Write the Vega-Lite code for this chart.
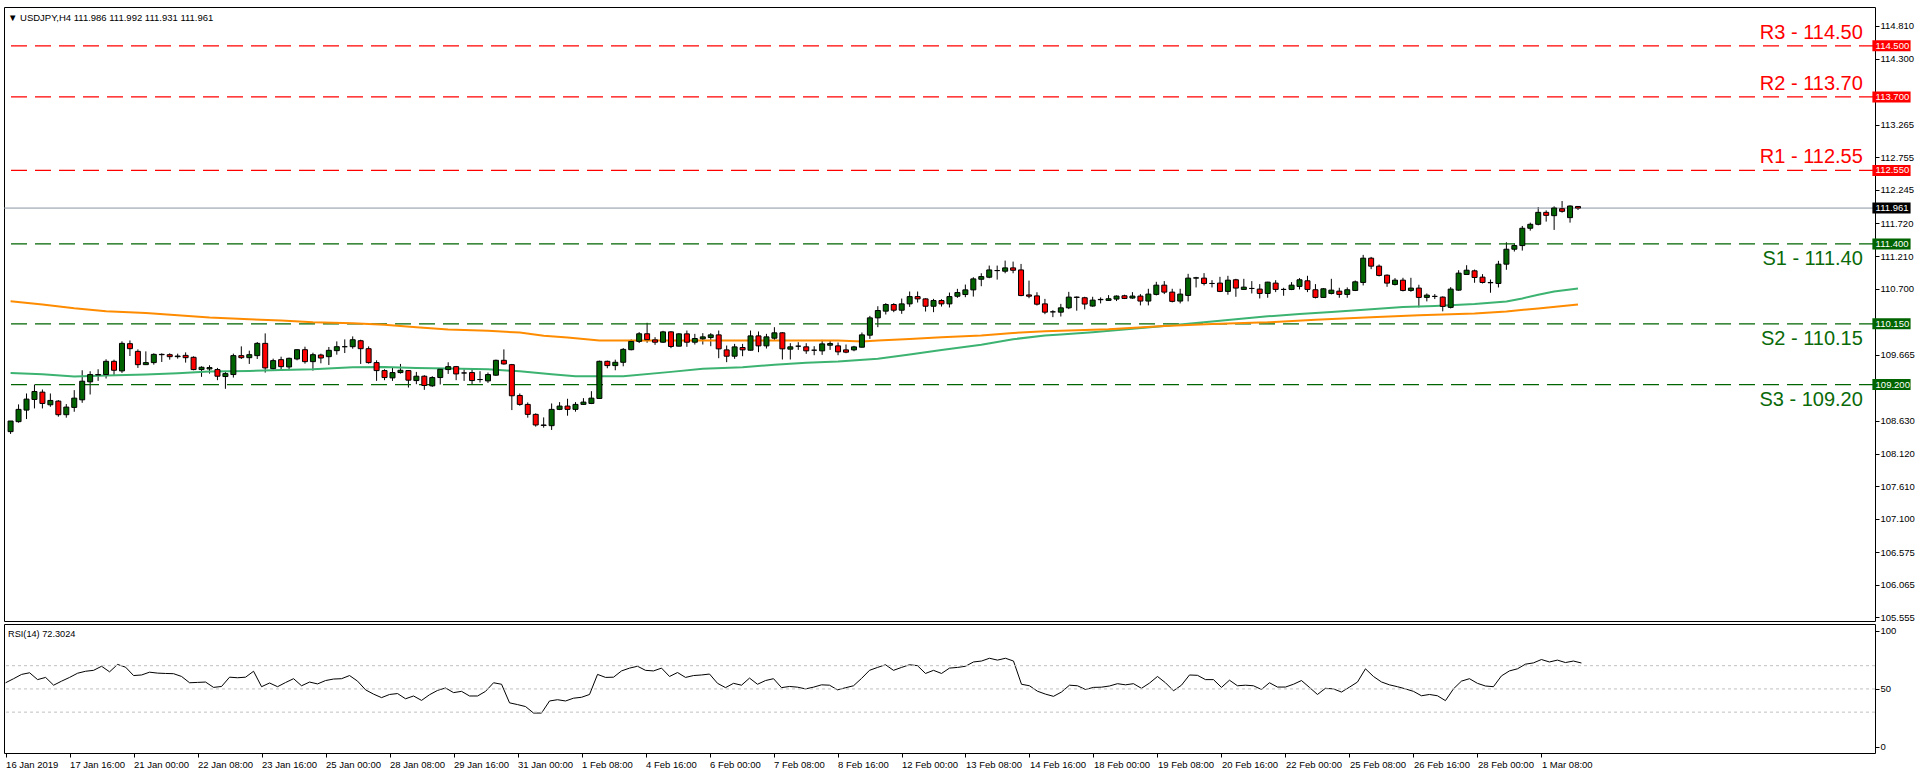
{
  "$schema": "https://vega.github.io/schema/vega-lite/v6.json",
  "background": "white",
  "padding": {"left": 2, "top": 6, "right": 0, "bottom": 0},
  "autosize": {"type": "pad"},
  "spacing": 0,
  "config": {
    "view": {"stroke": "#000000", "strokeWidth": 1},
    "font": "Liberation Sans",
    "axis": {"labelFont": "Liberation Sans", "labelFontSize": 9.5, "labelColor": "#000000", "tickColor": "#000000", "domain": false, "grid": false, "tickSize": 4, "labelOverlap": false, "labelBound": false, "labelFlush": false}
  },
  "resolve": {"scale": {"x": "independent", "y": "independent"}},
  "datasets": {
    "candles": [
      {"i":0,"o":108.463,"h":108.629,"l":108.427,"c":108.629},
      {"i":1,"o":108.619,"h":108.889,"l":108.603,"c":108.811},
      {"i":2,"o":108.800,"h":109.060,"l":108.660,"c":108.972},
      {"i":3,"o":108.966,"h":109.200,"l":108.826,"c":109.091},
      {"i":4,"o":109.081,"h":109.122,"l":108.826,"c":108.904},
      {"i":5,"o":108.883,"h":109.060,"l":108.852,"c":108.951},
      {"i":6,"o":108.941,"h":108.956,"l":108.697,"c":108.728},
      {"i":7,"o":108.728,"h":108.894,"l":108.681,"c":108.847},
      {"i":8,"o":108.842,"h":109.112,"l":108.774,"c":108.987},
      {"i":9,"o":108.961,"h":109.423,"l":108.914,"c":109.252},
      {"i":10,"o":109.242,"h":109.408,"l":109.044,"c":109.356},
      {"i":11,"o":109.356,"h":109.439,"l":109.257,"c":109.350},
      {"i":12,"o":109.356,"h":109.595,"l":109.294,"c":109.563},
      {"i":13,"o":109.563,"h":109.589,"l":109.335,"c":109.423},
      {"i":14,"o":109.413,"h":109.875,"l":109.382,"c":109.844},
      {"i":15,"o":109.839,"h":109.890,"l":109.646,"c":109.761},
      {"i":16,"o":109.719,"h":109.750,"l":109.460,"c":109.511},
      {"i":17,"o":109.511,"h":109.719,"l":109.511,"c":109.543},
      {"i":18,"o":109.543,"h":109.688,"l":109.511,"c":109.672},
      {"i":19,"o":109.672,"h":109.688,"l":109.553,"c":109.667},
      {"i":20,"o":109.667,"h":109.688,"l":109.589,"c":109.636},
      {"i":21,"o":109.636,"h":109.683,"l":109.605,"c":109.646},
      {"i":22,"o":109.656,"h":109.703,"l":109.543,"c":109.620},
      {"i":23,"o":109.626,"h":109.641,"l":109.423,"c":109.434},
      {"i":24,"o":109.434,"h":109.485,"l":109.320,"c":109.470},
      {"i":25,"o":109.444,"h":109.501,"l":109.371,"c":109.465},
      {"i":26,"o":109.434,"h":109.460,"l":109.268,"c":109.330},
      {"i":27,"o":109.325,"h":109.413,"l":109.133,"c":109.371},
      {"i":28,"o":109.356,"h":109.683,"l":109.309,"c":109.652},
      {"i":29,"o":109.652,"h":109.797,"l":109.600,"c":109.620},
      {"i":30,"o":109.620,"h":109.730,"l":109.522,"c":109.667},
      {"i":31,"o":109.652,"h":109.865,"l":109.600,"c":109.844},
      {"i":32,"o":109.844,"h":110.000,"l":109.387,"c":109.460},
      {"i":33,"o":109.449,"h":109.605,"l":109.434,"c":109.574},
      {"i":34,"o":109.589,"h":109.636,"l":109.434,"c":109.480},
      {"i":35,"o":109.475,"h":109.621,"l":109.423,"c":109.610},
      {"i":36,"o":109.600,"h":109.750,"l":109.579,"c":109.745},
      {"i":37,"o":109.745,"h":109.792,"l":109.527,"c":109.558},
      {"i":38,"o":109.558,"h":109.698,"l":109.418,"c":109.667},
      {"i":39,"o":109.662,"h":109.683,"l":109.532,"c":109.615},
      {"i":40,"o":109.636,"h":109.787,"l":109.506,"c":109.735},
      {"i":41,"o":109.730,"h":109.875,"l":109.667,"c":109.792},
      {"i":42,"o":109.792,"h":109.906,"l":109.693,"c":109.792},
      {"i":43,"o":109.792,"h":109.953,"l":109.761,"c":109.901},
      {"i":44,"o":109.885,"h":109.901,"l":109.522,"c":109.761},
      {"i":45,"o":109.761,"h":109.797,"l":109.527,"c":109.543},
      {"i":46,"o":109.543,"h":109.579,"l":109.257,"c":109.418},
      {"i":47,"o":109.418,"h":109.439,"l":109.268,"c":109.309},
      {"i":48,"o":109.304,"h":109.465,"l":109.257,"c":109.387},
      {"i":49,"o":109.387,"h":109.522,"l":109.371,"c":109.423},
      {"i":50,"o":109.418,"h":109.423,"l":109.153,"c":109.268},
      {"i":51,"o":109.262,"h":109.397,"l":109.205,"c":109.330},
      {"i":52,"o":109.330,"h":109.346,"l":109.117,"c":109.185},
      {"i":53,"o":109.179,"h":109.330,"l":109.164,"c":109.309},
      {"i":54,"o":109.309,"h":109.449,"l":109.200,"c":109.439},
      {"i":55,"o":109.434,"h":109.548,"l":109.366,"c":109.480},
      {"i":56,"o":109.480,"h":109.491,"l":109.268,"c":109.366},
      {"i":57,"o":109.381,"h":109.439,"l":109.257,"c":109.381},
      {"i":58,"o":109.387,"h":109.449,"l":109.200,"c":109.262},
      {"i":59,"o":109.278,"h":109.408,"l":109.231,"c":109.278},
      {"i":60,"o":109.257,"h":109.387,"l":109.226,"c":109.356},
      {"i":61,"o":109.346,"h":109.589,"l":109.335,"c":109.579},
      {"i":62,"o":109.579,"h":109.750,"l":109.511,"c":109.522},
      {"i":63,"o":109.511,"h":109.522,"l":108.800,"c":109.024},
      {"i":64,"o":109.029,"h":109.060,"l":108.868,"c":108.889},
      {"i":65,"o":108.889,"h":108.920,"l":108.681,"c":108.733},
      {"i":66,"o":108.733,"h":108.749,"l":108.541,"c":108.567},
      {"i":67,"o":108.567,"h":108.686,"l":108.525,"c":108.560},
      {"i":68,"o":108.556,"h":108.904,"l":108.489,"c":108.811},
      {"i":69,"o":108.811,"h":108.925,"l":108.800,"c":108.863},
      {"i":70,"o":108.863,"h":108.977,"l":108.712,"c":108.811},
      {"i":71,"o":108.811,"h":108.925,"l":108.775,"c":108.889},
      {"i":72,"o":108.889,"h":108.987,"l":108.884,"c":108.925},
      {"i":73,"o":108.904,"h":109.096,"l":108.894,"c":108.987},
      {"i":74,"o":108.982,"h":109.574,"l":108.977,"c":109.563},
      {"i":75,"o":109.563,"h":109.574,"l":109.454,"c":109.496},
      {"i":76,"o":109.496,"h":109.589,"l":109.423,"c":109.548},
      {"i":77,"o":109.548,"h":109.771,"l":109.485,"c":109.750},
      {"i":78,"o":109.745,"h":109.906,"l":109.735,"c":109.875},
      {"i":79,"o":109.875,"h":110.020,"l":109.849,"c":109.994},
      {"i":80,"o":109.994,"h":110.166,"l":109.854,"c":109.901},
      {"i":81,"o":109.899,"h":109.941,"l":109.821,"c":109.862},
      {"i":82,"o":109.862,"h":110.040,"l":109.852,"c":110.024},
      {"i":83,"o":110.024,"h":110.035,"l":109.769,"c":109.795},
      {"i":84,"o":109.800,"h":110.004,"l":109.795,"c":109.993},
      {"i":85,"o":109.993,"h":110.045,"l":109.790,"c":109.862},
      {"i":86,"o":109.862,"h":109.993,"l":109.826,"c":109.920},
      {"i":87,"o":109.915,"h":110.004,"l":109.826,"c":109.946},
      {"i":88,"o":109.935,"h":110.004,"l":109.800,"c":109.977},
      {"i":89,"o":109.977,"h":110.045,"l":109.612,"c":109.758},
      {"i":90,"o":109.742,"h":109.810,"l":109.550,"c":109.643},
      {"i":91,"o":109.643,"h":109.836,"l":109.602,"c":109.789},
      {"i":92,"o":109.779,"h":109.836,"l":109.643,"c":109.742},
      {"i":93,"o":109.737,"h":110.045,"l":109.732,"c":109.961},
      {"i":94,"o":109.961,"h":110.030,"l":109.706,"c":109.805},
      {"i":95,"o":109.805,"h":109.993,"l":109.763,"c":109.946},
      {"i":96,"o":109.925,"h":110.097,"l":109.888,"c":110.009},
      {"i":97,"o":110.009,"h":110.019,"l":109.592,"c":109.758},
      {"i":98,"o":109.753,"h":109.847,"l":109.592,"c":109.790},
      {"i":99,"o":109.800,"h":109.862,"l":109.742,"c":109.800},
      {"i":100,"o":109.790,"h":109.847,"l":109.680,"c":109.727},
      {"i":101,"o":109.737,"h":109.800,"l":109.659,"c":109.737},
      {"i":102,"o":109.727,"h":109.899,"l":109.664,"c":109.836},
      {"i":103,"o":109.815,"h":109.888,"l":109.742,"c":109.841},
      {"i":104,"o":109.805,"h":109.857,"l":109.659,"c":109.711},
      {"i":105,"o":109.742,"h":109.826,"l":109.690,"c":109.706},
      {"i":106,"o":109.742,"h":109.805,"l":109.721,"c":109.789},
      {"i":107,"o":109.784,"h":110.014,"l":109.779,"c":109.977},
      {"i":108,"o":109.972,"h":110.274,"l":109.915,"c":110.243},
      {"i":109,"o":110.243,"h":110.425,"l":110.097,"c":110.358},
      {"i":110,"o":110.348,"h":110.473,"l":110.296,"c":110.452},
      {"i":111,"o":110.452,"h":110.473,"l":110.332,"c":110.363},
      {"i":112,"o":110.363,"h":110.545,"l":110.306,"c":110.462},
      {"i":113,"o":110.462,"h":110.655,"l":110.415,"c":110.576},
      {"i":114,"o":110.576,"h":110.655,"l":110.483,"c":110.540},
      {"i":115,"o":110.540,"h":110.550,"l":110.342,"c":110.425},
      {"i":116,"o":110.425,"h":110.540,"l":110.332,"c":110.514},
      {"i":117,"o":110.514,"h":110.535,"l":110.420,"c":110.462},
      {"i":118,"o":110.462,"h":110.639,"l":110.405,"c":110.576},
      {"i":119,"o":110.581,"h":110.697,"l":110.556,"c":110.639},
      {"i":120,"o":110.608,"h":110.764,"l":110.566,"c":110.681},
      {"i":121,"o":110.681,"h":110.879,"l":110.576,"c":110.853},
      {"i":122,"o":110.847,"h":110.941,"l":110.738,"c":110.889},
      {"i":123,"o":110.879,"h":111.061,"l":110.863,"c":110.993},
      {"i":124,"o":110.983,"h":111.061,"l":110.842,"c":110.983},
      {"i":125,"o":110.973,"h":111.139,"l":110.941,"c":111.025},
      {"i":126,"o":111.025,"h":111.123,"l":110.941,"c":110.988},
      {"i":127,"o":110.993,"h":111.087,"l":110.582,"c":110.592},
      {"i":128,"o":110.602,"h":110.826,"l":110.550,"c":110.582},
      {"i":129,"o":110.587,"h":110.644,"l":110.436,"c":110.457},
      {"i":130,"o":110.462,"h":110.540,"l":110.301,"c":110.332},
      {"i":131,"o":110.337,"h":110.363,"l":110.254,"c":110.337},
      {"i":132,"o":110.332,"h":110.462,"l":110.264,"c":110.400},
      {"i":133,"o":110.400,"h":110.650,"l":110.380,"c":110.568},
      {"i":134,"o":110.568,"h":110.578,"l":110.355,"c":110.563},
      {"i":135,"o":110.558,"h":110.573,"l":110.376,"c":110.459},
      {"i":136,"o":110.428,"h":110.573,"l":110.417,"c":110.521},
      {"i":137,"o":110.527,"h":110.563,"l":110.469,"c":110.532},
      {"i":138,"o":110.516,"h":110.599,"l":110.511,"c":110.542},
      {"i":139,"o":110.537,"h":110.594,"l":110.506,"c":110.584},
      {"i":140,"o":110.589,"h":110.605,"l":110.537,"c":110.547},
      {"i":141,"o":110.553,"h":110.646,"l":110.542,"c":110.584},
      {"i":142,"o":110.584,"h":110.615,"l":110.438,"c":110.506},
      {"i":143,"o":110.506,"h":110.698,"l":110.438,"c":110.615},
      {"i":144,"o":110.610,"h":110.807,"l":110.594,"c":110.755},
      {"i":145,"o":110.755,"h":110.818,"l":110.615,"c":110.646},
      {"i":146,"o":110.646,"h":110.698,"l":110.485,"c":110.501},
      {"i":147,"o":110.506,"h":110.698,"l":110.469,"c":110.615},
      {"i":148,"o":110.594,"h":110.932,"l":110.501,"c":110.865},
      {"i":149,"o":110.865,"h":110.885,"l":110.719,"c":110.870},
      {"i":150,"o":110.865,"h":110.943,"l":110.750,"c":110.781},
      {"i":151,"o":110.781,"h":110.833,"l":110.719,"c":110.781},
      {"i":152,"o":110.787,"h":110.885,"l":110.646,"c":110.657},
      {"i":153,"o":110.657,"h":110.901,"l":110.605,"c":110.833},
      {"i":154,"o":110.839,"h":110.854,"l":110.573,"c":110.709},
      {"i":155,"o":110.688,"h":110.854,"l":110.688,"c":110.724},
      {"i":156,"o":110.703,"h":110.818,"l":110.625,"c":110.703},
      {"i":157,"o":110.693,"h":110.771,"l":110.547,"c":110.625},
      {"i":158,"o":110.625,"h":110.807,"l":110.558,"c":110.802},
      {"i":159,"o":110.787,"h":110.833,"l":110.646,"c":110.688},
      {"i":160,"o":110.688,"h":110.714,"l":110.589,"c":110.688},
      {"i":161,"o":110.688,"h":110.802,"l":110.677,"c":110.755},
      {"i":162,"o":110.735,"h":110.865,"l":110.688,"c":110.839},
      {"i":163,"o":110.823,"h":110.901,"l":110.646,"c":110.688},
      {"i":164,"o":110.683,"h":110.771,"l":110.547,"c":110.563},
      {"i":165,"o":110.563,"h":110.709,"l":110.558,"c":110.698},
      {"i":166,"o":110.625,"h":110.854,"l":110.610,"c":110.677},
      {"i":167,"o":110.661,"h":110.714,"l":110.558,"c":110.610},
      {"i":168,"o":110.610,"h":110.719,"l":110.558,"c":110.683},
      {"i":169,"o":110.672,"h":110.828,"l":110.662,"c":110.807},
      {"i":170,"o":110.797,"h":111.229,"l":110.750,"c":111.177},
      {"i":171,"o":111.177,"h":111.197,"l":111.005,"c":111.052},
      {"i":172,"o":111.052,"h":111.078,"l":110.891,"c":110.907},
      {"i":173,"o":110.911,"h":110.922,"l":110.729,"c":110.787},
      {"i":174,"o":110.766,"h":110.865,"l":110.750,"c":110.833},
      {"i":175,"o":110.833,"h":110.870,"l":110.657,"c":110.672},
      {"i":176,"o":110.672,"h":110.870,"l":110.651,"c":110.709},
      {"i":177,"o":110.709,"h":110.761,"l":110.407,"c":110.563},
      {"i":178,"o":110.563,"h":110.625,"l":110.501,"c":110.599},
      {"i":179,"o":110.579,"h":110.615,"l":110.537,"c":110.579},
      {"i":180,"o":110.568,"h":110.579,"l":110.345,"c":110.423},
      {"i":181,"o":110.407,"h":110.724,"l":110.391,"c":110.693},
      {"i":182,"o":110.677,"h":110.989,"l":110.667,"c":110.943},
      {"i":183,"o":110.922,"h":111.067,"l":110.922,"c":110.989},
      {"i":184,"o":110.979,"h":110.999,"l":110.792,"c":110.875},
      {"i":185,"o":110.880,"h":110.927,"l":110.781,"c":110.797},
      {"i":186,"o":110.797,"h":110.843,"l":110.636,"c":110.792},
      {"i":187,"o":110.781,"h":111.135,"l":110.719,"c":111.083},
      {"i":188,"o":111.083,"h":111.426,"l":110.995,"c":111.317},
      {"i":189,"o":111.317,"h":111.405,"l":111.281,"c":111.374},
      {"i":190,"o":111.374,"h":111.681,"l":111.296,"c":111.645},
      {"i":191,"o":111.645,"h":111.733,"l":111.608,"c":111.707},
      {"i":192,"o":111.707,"h":111.977,"l":111.691,"c":111.894},
      {"i":193,"o":111.894,"h":111.925,"l":111.749,"c":111.847},
      {"i":194,"o":111.842,"h":111.988,"l":111.619,"c":111.962},
      {"i":195,"o":111.951,"h":112.071,"l":111.889,"c":111.910},
      {"i":196,"o":111.811,"h":112.003,"l":111.733,"c":111.993},
      {"i":197,"o":111.986,"h":111.992,"l":111.931,"c":111.961}
    ],
    "ma": [
      {"i":0,"v":109.381,"s":"fast"},{"i":4,"v":109.360,"s":"fast"},{"i":8,"v":109.324,"s":"fast"},{"i":12,"v":109.340,"s":"fast"},{"i":17,"v":109.355,"s":"fast"},{"i":21,"v":109.376,"s":"fast"},{"i":25,"v":109.402,"s":"fast"},{"i":30,"v":109.413,"s":"fast"},{"i":34,"v":109.428,"s":"fast"},{"i":38,"v":109.438,"s":"fast"},{"i":43,"v":109.469,"s":"fast"},{"i":47,"v":109.475,"s":"fast"},{"i":51,"v":109.459,"s":"fast"},{"i":55,"v":109.449,"s":"fast"},{"i":60,"v":109.438,"s":"fast"},{"i":64,"v":109.407,"s":"fast"},{"i":68,"v":109.360,"s":"fast"},{"i":71,"v":109.331,"s":"fast"},{"i":77,"v":109.331,"s":"fast"},{"i":83,"v":109.398,"s":"fast"},{"i":87,"v":109.445,"s":"fast"},{"i":92,"v":109.471,"s":"fast"},{"i":96,"v":109.508,"s":"fast"},{"i":100,"v":109.539,"s":"fast"},{"i":104,"v":109.560,"s":"fast"},{"i":109,"v":109.602,"s":"fast"},{"i":113,"v":109.669,"s":"fast"},{"i":117,"v":109.742,"s":"fast"},{"i":122,"v":109.821,"s":"fast"},{"i":126,"v":109.909,"s":"fast"},{"i":130,"v":109.966,"s":"fast"},{"i":132,"v":109.981,"s":"fast"},{"i":136,"v":110.017,"s":"fast"},{"i":141,"v":110.074,"s":"fast"},{"i":145,"v":110.116,"s":"fast"},{"i":149,"v":110.163,"s":"fast"},{"i":154,"v":110.220,"s":"fast"},{"i":158,"v":110.267,"s":"fast"},{"i":162,"v":110.303,"s":"fast"},{"i":166,"v":110.335,"s":"fast"},{"i":171,"v":110.376,"s":"fast"},{"i":175,"v":110.412,"s":"fast"},{"i":179,"v":110.428,"s":"fast"},{"i":184,"v":110.459,"s":"fast"},{"i":188,"v":110.500,"s":"fast"},{"i":190,"v":110.547,"s":"fast"},{"i":192,"v":110.604,"s":"fast"},{"i":194,"v":110.657,"s":"fast"},{"i":197,"v":110.703,"s":"fast"},
      {"i":0,"v":110.503,"s":"slow"},{"i":4,"v":110.451,"s":"slow"},{"i":8,"v":110.393,"s":"slow"},{"i":12,"v":110.347,"s":"slow"},{"i":17,"v":110.321,"s":"slow"},{"i":21,"v":110.284,"s":"slow"},{"i":25,"v":110.248,"s":"slow"},{"i":30,"v":110.222,"s":"slow"},{"i":34,"v":110.201,"s":"slow"},{"i":38,"v":110.175,"s":"slow"},{"i":43,"v":110.160,"s":"slow"},{"i":47,"v":110.134,"s":"slow"},{"i":51,"v":110.098,"s":"slow"},{"i":55,"v":110.061,"s":"slow"},{"i":60,"v":110.040,"s":"slow"},{"i":64,"v":110.014,"s":"slow"},{"i":67,"v":109.963,"s":"slow"},{"i":70,"v":109.935,"s":"slow"},{"i":74,"v":109.888,"s":"slow"},{"i":87,"v":109.888,"s":"slow"},{"i":104,"v":109.888,"s":"slow"},{"i":107,"v":109.873,"s":"slow"},{"i":109,"v":109.888,"s":"slow"},{"i":113,"v":109.914,"s":"slow"},{"i":117,"v":109.940,"s":"slow"},{"i":122,"v":109.966,"s":"slow"},{"i":126,"v":110.008,"s":"slow"},{"i":130,"v":110.034,"s":"slow"},{"i":132,"v":110.043,"s":"slow"},{"i":138,"v":110.064,"s":"slow"},{"i":145,"v":110.116,"s":"slow"},{"i":151,"v":110.147,"s":"slow"},{"i":158,"v":110.173,"s":"slow"},{"i":164,"v":110.215,"s":"slow"},{"i":171,"v":110.251,"s":"slow"},{"i":177,"v":110.282,"s":"slow"},{"i":184,"v":110.313,"s":"slow"},{"i":188,"v":110.344,"s":"slow"},{"i":192,"v":110.391,"s":"slow"},{"i":197,"v":110.453,"s":"slow"}
    ],
    "res": [
      {"p":114.50,"name":"R3 - 114.50"},
      {"p":113.70,"name":"R2 - 113.70"},
      {"p":112.55,"name":"R1 - 112.55"}
    ],
    "sup": [
      {"p":111.40,"name":"S1 - 111.40"},
      {"p":110.15,"name":"S2 - 110.15"},
      {"p":109.20,"name":"S3 - 109.20"}
    ],
    "bid": [{"p":111.961}],
    "boxes": [
      {"p":114.500,"t":"114.500","k":"R"},
      {"p":113.700,"t":"113.700","k":"R"},
      {"p":112.550,"t":"112.550","k":"R"},
      {"p":111.961,"t":"111.961","k":"P"},
      {"p":111.400,"t":"111.400","k":"S"},
      {"p":110.150,"t":"110.150","k":"S"},
      {"p":109.200,"t":"109.200","k":"S"}
    ],
    "rsiLevels": [{"v":70},{"v":50},{"v":30}],
    "rsi": [
      {"i":0,"v":55.3},{"i":1,"v":58.8},{"i":2,"v":62.5},{"i":3,"v":63.9},{"i":4,"v":58.0},{"i":5,"v":59.9},{"i":6,"v":53.2},{"i":7,"v":56.7},{"i":8,"v":59.9},{"i":9,"v":63.5},
      {"i":10,"v":65.2},{"i":11,"v":66.0},{"i":12,"v":69.5},{"i":13,"v":64.7},{"i":14,"v":71.1},{"i":15,"v":68.7},{"i":16,"v":61.5},{"i":17,"v":62.0},{"i":18,"v":64.4},{"i":19,"v":63.6},
      {"i":20,"v":63.3},{"i":21,"v":63.1},{"i":22,"v":60.7},{"i":23,"v":55.3},{"i":24,"v":55.6},{"i":25,"v":55.9},{"i":26,"v":51.3},{"i":27,"v":52.1},{"i":28,"v":60.1},{"i":29,"v":59.6},
      {"i":30,"v":60.1},{"i":31,"v":65.2},{"i":32,"v":51.9},{"i":33,"v":55.1},{"i":34,"v":51.9},{"i":35,"v":55.5},{"i":36,"v":58.8},{"i":37,"v":52.7},{"i":38,"v":55.9},{"i":39,"v":54.3},
      {"i":40,"v":57.2},{"i":41,"v":58.5},{"i":42,"v":58.8},{"i":43,"v":61.5},{"i":44,"v":56.7},{"i":45,"v":49.2},{"i":46,"v":45.5},{"i":47,"v":42.5},{"i":48,"v":45.2},{"i":49,"v":46.0},
      {"i":50,"v":41.5},{"i":51,"v":43.9},{"i":52,"v":40.1},{"i":53,"v":45.0},{"i":54,"v":48.7},{"i":55,"v":50.8},{"i":56,"v":46.8},{"i":57,"v":47.9},{"i":58,"v":43.9},{"i":59,"v":43.9},
      {"i":60,"v":47.9},{"i":61,"v":55.3},{"i":62,"v":54.0},{"i":63,"v":38.0},{"i":64,"v":36.5},{"i":65,"v":34.8},{"i":66,"v":29.2},{"i":67,"v":29.2},{"i":68,"v":39.6},{"i":69,"v":40.7},
      {"i":70,"v":39.6},{"i":71,"v":42.0},{"i":72,"v":42.8},{"i":73,"v":45.2},{"i":74,"v":62.5},{"i":75,"v":59.9},{"i":76,"v":60.1},{"i":77,"v":65.5},{"i":78,"v":67.9},{"i":79,"v":69.5},
      {"i":80,"v":66.0},{"i":81,"v":65.5},{"i":82,"v":67.9},{"i":83,"v":60.7},{"i":84,"v":64.1},{"i":85,"v":59.9},{"i":86,"v":61.5},{"i":87,"v":62.0},{"i":88,"v":62.8},{"i":89,"v":54.8},
      {"i":90,"v":51.1},{"i":91,"v":54.8},{"i":92,"v":53.2},{"i":93,"v":59.3},{"i":94,"v":54.0},{"i":95,"v":57.2},{"i":96,"v":58.8},{"i":97,"v":51.1},{"i":98,"v":52.1},{"i":99,"v":51.5},
      {"i":100,"v":50.0},{"i":101,"v":51.5},{"i":102,"v":53.5},{"i":103,"v":53.2},{"i":104,"v":49.2},{"i":105,"v":51.0},{"i":106,"v":52.7},{"i":107,"v":59.0},{"i":108,"v":66.0},{"i":109,"v":68.5},
      {"i":110,"v":70.8},{"i":111,"v":66.0},{"i":112,"v":68.5},{"i":113,"v":70.8},{"i":114,"v":70.0},{"i":115,"v":63.3},{"i":116,"v":66.0},{"i":117,"v":63.3},{"i":118,"v":67.9},{"i":119,"v":68.5},
      {"i":120,"v":69.5},{"i":121,"v":73.2},{"i":122,"v":74.0},{"i":123,"v":76.4},{"i":124,"v":74.8},{"i":125,"v":76.4},{"i":126,"v":74.0},{"i":127,"v":54.0},{"i":128,"v":52.7},{"i":129,"v":48.0},
      {"i":130,"v":45.5},{"i":131,"v":43.6},{"i":132,"v":47.3},{"i":133,"v":53.2},{"i":134,"v":52.7},{"i":135,"v":49.5},{"i":136,"v":51.3},{"i":137,"v":51.5},{"i":138,"v":52.5},{"i":139,"v":54.5},
      {"i":140,"v":53.5},{"i":141,"v":54.5},{"i":142,"v":50.5},{"i":143,"v":55.0},{"i":144,"v":60.7},{"i":145,"v":55.3},{"i":146,"v":48.4},{"i":147,"v":53.2},{"i":148,"v":62.0},{"i":149,"v":61.7},
      {"i":150,"v":58.0},{"i":151,"v":58.0},{"i":152,"v":51.3},{"i":153,"v":57.5},{"i":154,"v":52.7},{"i":155,"v":53.2},{"i":156,"v":52.7},{"i":157,"v":49.5},{"i":158,"v":55.3},{"i":159,"v":51.6},
      {"i":160,"v":51.6},{"i":161,"v":54.0},{"i":162,"v":57.2},{"i":163,"v":51.3},{"i":164,"v":45.2},{"i":165,"v":50.5},{"i":166,"v":50.0},{"i":167,"v":47.3},{"i":168,"v":51.5},{"i":169,"v":55.9},
      {"i":170,"v":67.3},{"i":171,"v":60.7},{"i":172,"v":56.0},{"i":173,"v":53.5},{"i":174,"v":51.9},{"i":175,"v":50.0},{"i":176,"v":47.9},{"i":177,"v":44.1},{"i":178,"v":45.2},{"i":179,"v":44.1},
      {"i":180,"v":39.9},{"i":181,"v":50.0},{"i":182,"v":56.7},{"i":183,"v":58.8},{"i":184,"v":54.8},{"i":185,"v":52.5},{"i":186,"v":51.9},{"i":187,"v":61.2},{"i":188,"v":65.5},{"i":189,"v":67.3},
      {"i":190,"v":71.3},{"i":191,"v":72.4},{"i":192,"v":75.3},{"i":193,"v":73.2},{"i":194,"v":74.8},{"i":195,"v":72.7},{"i":196,"v":74.0},{"i":197,"v":72.3}
    ]
  },
  "vconcat": [
    {
      "width": 1871,
      "height": 614,
      "title": {"text": "▼ USDJPY,H4  111.986 111.992 111.931 111.961", "anchor": "start", "frame": "group", "offset": -15, "dx": 4, "fontSize": 9.5, "fontWeight": "normal", "font": "Liberation Sans", "color": "#000000"},
      "layer": [
        {
          "data": {"name": "candles"},
          "mark": {"type": "rule", "color": "#000000", "strokeWidth": 1},
          "encoding": {
            "x": {"field": "i", "type": "quantitative", "scale": {"domain": [-0.2, 233.7], "nice": false, "zero": false}, "axis": null},
            "y": {"field": "l", "type": "quantitative", "title": null, "scale": {"domain": [105.5, 115.107], "nice": false, "zero": false},
                  "axis": {"orient": "right", "title": null, "values": [114.81,114.3,113.265,112.755,112.245,111.72,111.21,110.7,109.665,108.63,108.12,107.61,107.1,106.575,106.065,105.555], "format": ".3f", "labelPadding": 1, "labelOverlap": false, "labelBound": false, "labelFlush": false}},
            "y2": {"field": "h"}
          }
        },
        {
          "data": {"name": "res"},
          "mark": {"type": "rule", "color": "#ff0000", "strokeDash": [16, 8], "strokeWidth": 1.2},
          "encoding": {"y": {"field": "p", "type": "quantitative", "title": null, "scale": {"domain": [105.5, 115.107], "nice": false, "zero": false}}}
        },
        {
          "data": {"name": "sup"},
          "mark": {"type": "rule", "color": "#006400", "strokeDash": [16, 8], "strokeWidth": 1.2},
          "encoding": {"y": {"field": "p", "type": "quantitative", "title": null, "scale": {"domain": [105.5, 115.107], "nice": false, "zero": false}}}
        },
        {
          "data": {"name": "bid"},
          "mark": {"type": "rule", "color": "#8a96a3", "strokeWidth": 1},
          "encoding": {"y": {"field": "p", "type": "quantitative", "title": null, "scale": {"domain": [105.5, 115.107], "nice": false, "zero": false}}}
        },
        {
          "data": {"name": "ma"},
          "mark": {"type": "line", "strokeWidth": 2},
          "encoding": {
            "x": {"field": "i", "type": "quantitative", "scale": {"domain": [-0.2, 233.7], "nice": false, "zero": false}, "axis": null},
            "y": {"field": "v", "type": "quantitative", "title": null, "scale": {"domain": [105.5, 115.107], "nice": false, "zero": false}},
            "stroke": {"field": "s", "type": "nominal", "scale": {"domain": ["fast", "slow"], "range": ["#3cb371", "#ff8c00"]}, "legend": null}
          }
        },
        {
          "data": {"name": "candles"},
          "mark": {"type": "bar", "size": 5, "stroke": "#000000", "strokeWidth": 1},
          "encoding": {
            "x": {"field": "i", "type": "quantitative", "scale": {"domain": [-0.2, 233.7], "nice": false, "zero": false}, "axis": null},
            "y": {"field": "o", "type": "quantitative", "title": null, "scale": {"domain": [105.5, 115.107], "nice": false, "zero": false}},
            "y2": {"field": "c"},
            "fill": {"condition": {"test": "datum.c >= datum.o", "value": "#006400"}, "value": "#ff0000"}
          }
        },
        {
          "data": {"name": "res"},
          "mark": {"type": "text", "align": "right", "baseline": "middle", "dy": -13, "fontSize": 20, "font": "Liberation Sans", "color": "#ff0000"},
          "encoding": {
            "x": {"datum": 232.8, "type": "quantitative", "scale": {"domain": [-0.2, 233.7], "nice": false, "zero": false}, "axis": null},
            "y": {"field": "p", "type": "quantitative", "title": null, "scale": {"domain": [105.5, 115.107], "nice": false, "zero": false}},
            "text": {"field": "name"}
          }
        },
        {
          "data": {"name": "sup"},
          "mark": {"type": "text", "align": "right", "baseline": "middle", "dy": 15, "fontSize": 20, "font": "Liberation Sans", "color": "#0a6a0a"},
          "encoding": {
            "x": {"datum": 232.8, "type": "quantitative", "scale": {"domain": [-0.2, 233.7], "nice": false, "zero": false}, "axis": null},
            "y": {"field": "p", "type": "quantitative", "title": null, "scale": {"domain": [105.5, 115.107], "nice": false, "zero": false}},
            "text": {"field": "name"}
          }
        },
        {
          "data": {"name": "boxes"},
          "mark": {"type": "rule", "strokeWidth": 11},
          "encoding": {
            "x": {"datum": 234.0, "type": "quantitative", "scale": {"domain": [-0.2, 233.7], "nice": false, "zero": false}, "axis": null},
            "x2": {"datum": 238.8},
            "y": {"field": "p", "type": "quantitative", "title": null, "scale": {"domain": [105.5, 115.107], "nice": false, "zero": false}},
            "color": {"field": "k", "type": "nominal", "scale": {"domain": ["R", "S", "P"], "range": ["#ff0000", "#006400", "#000000"]}, "legend": null}
          }
        },
        {
          "data": {"name": "boxes"},
          "mark": {"type": "text", "align": "left", "baseline": "middle", "fontSize": 9.5, "font": "Liberation Sans", "color": "#ffffff"},
          "encoding": {
            "x": {"datum": 234.4, "type": "quantitative", "scale": {"domain": [-0.2, 233.7], "nice": false, "zero": false}, "axis": null},
            "y": {"field": "p", "type": "quantitative", "title": null, "scale": {"domain": [105.5, 115.107], "nice": false, "zero": false}},
            "text": {"field": "t"}
          }
        }
      ]
    },
    {
      "width": 1871,
      "height": 129,
      "title": {"text": "RSI(14) 72.3024", "anchor": "start", "frame": "group", "offset": -15, "dx": 4, "fontSize": 9.2, "fontWeight": "normal", "font": "Liberation Sans", "color": "#000000"},
      "layer": [
        {
          "data": {"name": "rsi"},
          "mark": {"type": "line", "color": "#000000", "strokeWidth": 1},
          "encoding": {
            "x": {"field": "i", "type": "quantitative", "title": null, "scale": {"domain": [-0.2, 233.7], "nice": false, "zero": false},
                  "axis": {"orient": "bottom", "title": null, "values": [0,8,16,24,32,40,48,56,64,72,80,88,96,104,112,120,128,136,144,152,160,168,176,184,192], "labelAlign": "left", "labelPadding": 2, "labelOverlap": false, "labelBound": false, "labelFlush": false,
                           "labelExpr": "['16 Jan 2019','17 Jan 16:00','21 Jan 00:00','22 Jan 08:00','23 Jan 16:00','25 Jan 00:00','28 Jan 08:00','29 Jan 16:00','31 Jan 00:00','1 Feb 08:00','4 Feb 16:00','6 Feb 00:00','7 Feb 08:00','8 Feb 16:00','12 Feb 00:00','13 Feb 08:00','14 Feb 16:00','18 Feb 00:00','19 Feb 08:00','20 Feb 16:00','22 Feb 00:00','25 Feb 08:00','26 Feb 16:00','28 Feb 00:00','1 Mar 08:00'][round(datum.value/8)]"}},
            "y": {"field": "v", "type": "quantitative", "title": null, "scale": {"domain": [-5.2, 105.9], "nice": false, "zero": false},
                  "axis": {"orient": "right", "title": null, "values": [0, 30, 50, 70, 100], "format": "d", "labelPadding": 1, "labelOverlap": false, "labelBound": false, "labelFlush": false}}
          }
        },
        {
          "data": {"name": "rsiLevels"},
          "mark": {"type": "rule", "color": "#c0c0c0", "strokeDash": [3, 3], "strokeWidth": 1},
          "encoding": {"y": {"field": "v", "type": "quantitative", "title": null, "scale": {"domain": [-5.2, 105.9], "nice": false, "zero": false}}}
        }
      ]
    }
  ]
}
